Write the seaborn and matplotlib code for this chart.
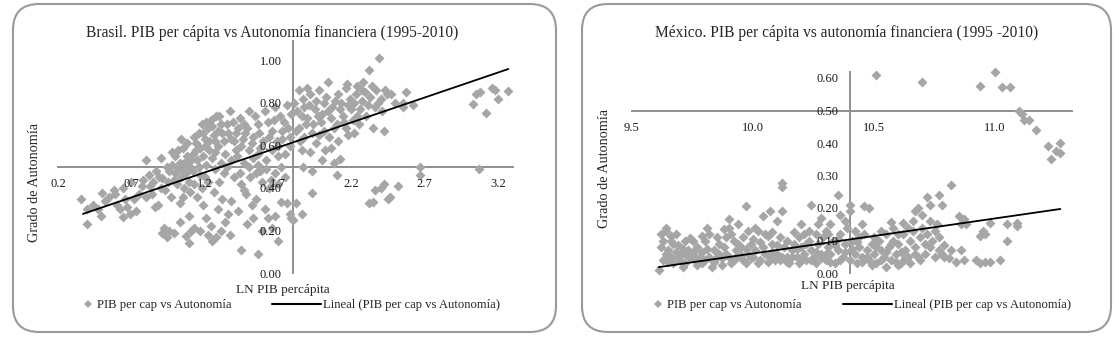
import numpy as np
import pandas as pd
import matplotlib
matplotlib.use('Agg')
import matplotlib.pyplot as plt
import seaborn as sns
from matplotlib.patches import FancyBboxPatch
from matplotlib.lines import Line2D
from matplotlib.transforms import IdentityTransform

# Brasil: LN PIB per capita vs grado de autonomia
brasil_pts = [
    (0.36, 0.35), (0.40, 0.30), (0.40, 0.23), (0.44, 0.32), (0.47, 0.30), (0.50, 0.375), (0.49, 0.27),
    (0.52, 0.34), (0.55, 0.36), (0.58, 0.39), (0.59, 0.37), (0.60, 0.32), (0.62, 0.30), (0.645, 0.265),
    (0.67, 0.31), (0.69, 0.28), (0.66, 0.35), (0.64, 0.40), (0.73, 0.29), (0.75, 0.37), (0.77, 0.41),
    (0.78, 0.44), (0.72, 0.35), (0.70, 0.43), (0.80, 0.36), (0.84, 0.37),
    (0.80, 0.53), (0.83, 0.41), (0.86, 0.31), (0.88, 0.32), (0.82, 0.46), (0.85, 0.43), (0.87, 0.48),
    (0.89, 0.45), (0.90, 0.54), (0.91, 0.445), (0.93, 0.39), (0.96, 0.48), (0.975, 0.57), (0.99, 0.44),
    (1.02, 0.58), (1.03, 0.33), (1.05, 0.59), (1.06, 0.52), (1.08, 0.55), (1.09, 0.27), (0.94, 0.50),
    (0.98, 0.51), (1.00, 0.47), (1.02, 0.49), (1.04, 0.45), (1.07, 0.47), (1.10, 0.50), (0.95, 0.43),
    (1.01, 0.42), (1.06, 0.40), (1.09, 0.43), (0.91, 0.19), (0.94, 0.17), (0.99, 0.19), (1.03, 0.24),
    (1.07, 0.175), (1.09, 0.14), (0.92, 0.21), (0.96, 0.20), (1.04, 0.63), (1.08, 0.61),
    (0.90, 0.40), (0.97, 0.36), (1.05, 0.36), (1.10, 0.38), (1.00, 0.55), (1.03, 0.52), (1.05, 0.48),
    (1.08, 0.51),
    (1.11, 0.20), (1.13, 0.21), (1.17, 0.20), (1.19, 0.32), (1.12, 0.56), (1.14, 0.61), (1.16, 0.66),
    (1.18, 0.70), (1.20, 0.63), (1.22, 0.68), (1.24, 0.72), (1.26, 0.65), (1.28, 0.74), (1.12, 0.48),
    (1.15, 0.53), (1.17, 0.46), (1.19, 0.55), (1.21, 0.51), (1.23, 0.58), (1.25, 0.54), (1.27, 0.49),
    (1.29, 0.60), (1.13, 0.42), (1.18, 0.40), (1.22, 0.43), (1.26, 0.38), (1.15, 0.36), (1.21, 0.26),
    (1.24, 0.22), (1.28, 0.17), (1.29, 0.30), (1.14, 0.58), (1.20, 0.60), (1.27, 0.57), (1.23, 0.62),
    (1.16, 0.50), (1.30, 0.74), (1.31, 0.70), (1.32, 0.66), (1.33, 0.62), (1.34, 0.56), (1.31, 0.52),
    (1.33, 0.47), (1.30, 0.43), (1.32, 0.35), (1.34, 0.24), (1.31, 0.20), (1.22, 0.18), (1.25, 0.15),
    (1.11, 0.53), (1.13, 0.64), (1.17, 0.59), (1.19, 0.66), (1.21, 0.71), (1.25, 0.69), (1.27, 0.62),
    (1.29, 0.67), (1.20, 0.45),
    (1.37, 0.76), (1.44, 0.73), (1.50, 0.76), (1.43, 0.68), (1.36, 0.66), (1.475, 0.66), (1.56, 0.70),
    (1.63, 0.71), (1.66, 0.67), (1.71, 0.74), (1.76, 0.79), (1.73, 0.67), (1.41, 0.58), (1.50, 0.58),
    (1.56, 0.56), (1.66, 0.58), (1.75, 0.56), (1.38, 0.53), (1.47, 0.52), (1.56, 0.51), (1.72, 0.50),
    (1.44, 0.47), (1.51, 0.45), (1.59, 0.43), (1.68, 0.47), (1.47, 0.39), (1.48, 0.37), (1.38, 0.34),
    (1.36, 0.28), (1.43, 0.29), (1.52, 0.32), (1.53, 0.26), (1.61, 0.30), (1.63, 0.26), (1.68, 0.27),
    (1.72, 0.335), (1.76, 0.33), (1.59, 0.20), (1.45, 0.11), (1.56, 0.09), (1.37, 0.18), (1.40, 0.62),
    (1.46, 0.63), (1.53, 0.64), (1.60, 0.62), (1.69, 0.62), (1.78, 0.64), (1.39, 0.71), (1.47, 0.70),
    (1.54, 0.74), (1.61, 0.76), (1.68, 0.78), (1.74, 0.71), (1.79, 0.75), (1.42, 0.55), (1.53, 0.54),
    (1.62, 0.53), (1.70, 0.55), (1.78, 0.60), (1.64, 0.40), (1.58, 0.48), (1.75, 0.45), (1.49, 0.23),
    (1.66, 0.21), (1.70, 0.15), (1.55, 0.35), (1.78, 0.28), (1.79, 0.26),
    (1.35, 0.70), (1.38, 0.63), (1.41, 0.66), (1.45, 0.60), (1.49, 0.68), (1.52, 0.61), (1.57, 0.66),
    (1.58, 0.59), (1.64, 0.64), (1.67, 0.72), (1.70, 0.60), (1.73, 0.63), (1.77, 0.68), (1.35, 0.50),
    (1.40, 0.45), (1.45, 0.42), (1.50, 0.50), (1.55, 0.47), (1.62, 0.49), (1.65, 0.44), (1.70, 0.42),
    (1.80, 0.25), (1.82, 0.33), (1.86, 0.28), (1.84, 0.86), (1.92, 0.84), (1.98, 0.86), (1.88, 0.78),
    (1.95, 0.77), (2.01, 0.80), (2.09, 0.81), (2.16, 0.87), (2.17, 0.89), (2.24, 0.88), (2.29, 0.85),
    (2.33, 0.83), (2.37, 0.86), (2.32, 0.955), (2.39, 1.01), (2.13, 0.80), (2.20, 0.77), (2.26, 0.77),
    (1.90, 0.73), (1.99, 0.71), (2.06, 0.73), (2.14, 0.74), (2.21, 0.72), (2.30, 0.74), (2.36, 0.78),
    (1.84, 0.68), (1.93, 0.66), (2.01, 0.67), (2.08, 0.68), (2.16, 0.68), (2.35, 0.68), (2.02, 0.58),
    (2.06, 0.59), (2.11, 0.62), (2.12, 0.535), (1.93, 0.48), (2.10, 0.46), (1.93, 0.375), (2.32, 0.33),
    (2.36, 0.39), (1.82, 0.67), (1.85, 0.62), (1.81, 0.80), (1.83, 0.76), (1.87, 0.82), (1.90, 0.87),
    (1.96, 0.81), (2.04, 0.76), (2.11, 0.84), (2.19, 0.82), (2.23, 0.84), (2.27, 0.81), (2.40, 0.82),
    (2.43, 0.86), (1.89, 0.70), (1.97, 0.74), (2.25, 0.70), (2.18, 0.65), (1.86, 0.58), (1.96, 0.61),
    (2.35, 0.335), (2.42, 0.42), (2.45, 0.35), (2.52, 0.41), (2.46, 0.36), (2.40, 0.40), (2.04, 0.90),
    (2.28, 0.90), (1.86, 0.74), (1.91, 0.79), (1.94, 0.70), (2.00, 0.75), (2.03, 0.83), (2.07, 0.78),
    (2.12, 0.77), (2.15, 0.71), (2.18, 0.79), (2.22, 0.80), (2.24, 0.74), (2.27, 0.86), (2.31, 0.79),
    (2.34, 0.88), (2.38, 0.80), (2.41, 0.76), (2.10, 0.70), (1.98, 0.65), (2.05, 0.64), (2.22, 0.66),
    (1.88, 0.64), (1.92, 0.57), (2.00, 0.53), (2.08, 0.52), (1.87, 0.50),
    (2.42, 0.67), (2.47, 0.84), (2.44, 0.84), (2.57, 0.85), (2.55, 0.80), (2.55, 0.78), (2.62, 0.79),
    (2.67, 0.50), (2.67, 0.46), (3.07, 0.49), (3.03, 0.795), (3.05, 0.84), (3.08, 0.85), (3.12, 0.755),
    (3.16, 0.87), (3.18, 0.86), (3.20, 0.82), (3.27, 0.855), (2.50, 0.80),
]
brasil_trend_x = [0.37, 3.27]
brasil_trend_y = [0.278, 0.96]
brasil_xticks = [0.2, 0.7, 1.2, 1.7, 2.2, 2.7, 3.2]
brasil_yticks = [0.0, 0.2, 0.4, 0.6, 0.8, 1.0]

# Mexico
mexico_pts = [
    (9.61, 0.01), (9.64, 0.14), (9.64, 0.13), (9.66, 0.10), (9.68, 0.12), (9.64, 0.06), (9.65, 0.07),
    (9.66, 0.05), (9.69, 0.085), (9.70, 0.055), (9.74, 0.107), (9.75, 0.10), (9.75, 0.06), (9.77, 0.08),
    (9.81, 0.14), (9.80, 0.04), (9.63, 0.04), (9.67, 0.03), (9.70, 0.04), (9.72, 0.03), (9.73, 0.07),
    (9.76, 0.04), (9.78, 0.05), (9.68, 0.065), (9.71, 0.075), (9.79, 0.03),
    (9.62, 0.08), (9.63, 0.10), (9.65, 0.035), (9.67, 0.09), (9.69, 0.045), (9.71, 0.02), (9.72, 0.06),
    (9.74, 0.045), (9.76, 0.07), (9.77, 0.025), (9.79, 0.065), (9.81, 0.075), (9.83, 0.02),
    (9.62, 0.12), (9.66, 0.115), (9.72, 0.10), (9.80, 0.10), (9.82, 0.12), (9.79, 0.115),
    (9.84, 0.07), (9.85, 0.11), (9.90, 0.165), (9.89, 0.11), (9.90, 0.14), (9.91, 0.12), (9.97, 0.206),
    (10.01, 0.14), (10.02, 0.13), (10.05, 0.12), (10.04, 0.175), (10.07, 0.19), (10.06, 0.115),
    (9.82, 0.05), (9.84, 0.035), (9.86, 0.06), (9.87, 0.045), (9.88, 0.08), (9.90, 0.05), (9.92, 0.04),
    (9.93, 0.07), (9.94, 0.09), (9.95, 0.055), (9.96, 0.04), (9.97, 0.075), (9.98, 0.06), (9.99, 0.09),
    (10.00, 0.05), (10.01, 0.07), (10.03, 0.04), (10.04, 0.08), (10.05, 0.06), (10.07, 0.05),
    (10.08, 0.09), (10.09, 0.04), (9.86, 0.09), (9.92, 0.10), (9.96, 0.11), (10.00, 0.105),
    (9.85, 0.05), (9.87, 0.025), (9.89, 0.06), (9.91, 0.03), (9.93, 0.05), (9.95, 0.08), (9.97, 0.03),
    (9.99, 0.045), (10.02, 0.03), (10.03, 0.095), (10.06, 0.035), (10.08, 0.065), (9.98, 0.13),
    (9.94, 0.15), (9.88, 0.135),
    (10.12, 0.276), (10.12, 0.265), (10.12, 0.19), (10.11, 0.11), (10.17, 0.127), (10.21, 0.12),
    (10.24, 0.21), (10.23, 0.13), (10.27, 0.15), (10.32, 0.15), (10.35, 0.24),
    (10.10, 0.06), (10.11, 0.04), (10.13, 0.08), (10.14, 0.05), (10.15, 0.03), (10.16, 0.07),
    (10.17, 0.09), (10.18, 0.05), (10.19, 0.03), (10.20, 0.08), (10.21, 0.06), (10.22, 0.04),
    (10.23, 0.10), (10.24, 0.07), (10.25, 0.05), (10.26, 0.03), (10.27, 0.09), (10.28, 0.06),
    (10.29, 0.11), (10.30, 0.04), (10.31, 0.08), (10.32, 0.06), (10.33, 0.10), (10.34, 0.03),
    (10.35, 0.07), (10.36, 0.12), (10.37, 0.05), (10.38, 0.09), (10.39, 0.14), (10.30, 0.13),
    (10.26, 0.12), (10.36, 0.18), (10.38, 0.16), (10.14, 0.10), (10.19, 0.11),
    (10.10, 0.085), (10.12, 0.05), (10.14, 0.035), (10.16, 0.05), (10.18, 0.075), (10.20, 0.04),
    (10.22, 0.09), (10.24, 0.04), (10.26, 0.065), (10.28, 0.045), (10.30, 0.06), (10.32, 0.035),
    (10.34, 0.085), (10.36, 0.04), (10.38, 0.065), (10.35, 0.105), (10.31, 0.12), (10.28, 0.17),
    (10.20, 0.15), (10.08, 0.125), (10.10, 0.16),
    (10.40, 0.21), (10.40, 0.19), (10.46, 0.205), (10.48, 0.20), (10.57, 0.156), (10.68, 0.20),
    (10.67, 0.19), (10.72, 0.235), (10.73, 0.21), (10.77, 0.24), (10.78, 0.21), (10.82, 0.27),
    (10.73, 0.16), (10.41, 0.10), (10.42, 0.06), (10.43, 0.03), (10.44, 0.08), (10.45, 0.05),
    (10.46, 0.12), (10.47, 0.07), (10.48, 0.04), (10.49, 0.09), (10.50, 0.06), (10.51, 0.03),
    (10.52, 0.10), (10.53, 0.07), (10.54, 0.05), (10.55, 0.12), (10.56, 0.08), (10.57, 0.04),
    (10.58, 0.10), (10.59, 0.06), (10.60, 0.09), (10.61, 0.03), (10.62, 0.12), (10.63, 0.07),
    (10.64, 0.05), (10.65, 0.10), (10.66, 0.13), (10.67, 0.08), (10.68, 0.05), (10.69, 0.11),
    (10.70, 0.14), (10.71, 0.09), (10.72, 0.12), (10.74, 0.10), (10.75, 0.13), (10.76, 0.15),
    (10.77, 0.11), (10.79, 0.086), (10.79, 0.05), (10.81, 0.045), (10.82, 0.07), (10.78, 0.06),
    (10.55, 0.02), (10.60, 0.025), (10.42, 0.13), (10.44, 0.11),
    (10.40, 0.04), (10.41, 0.075), (10.43, 0.095), (10.45, 0.035), (10.47, 0.05), (10.49, 0.025),
    (10.51, 0.08), (10.53, 0.04), (10.55, 0.065), (10.57, 0.09), (10.59, 0.035), (10.61, 0.065),
    (10.63, 0.045), (10.65, 0.03), (10.67, 0.06), (10.69, 0.04), (10.71, 0.06), (10.73, 0.08),
    (10.75, 0.05), (10.77, 0.07), (10.53, 0.13), (10.58, 0.14), (10.62, 0.155), (10.64, 0.14),
    (10.60, 0.12), (10.50, 0.11), (10.45, 0.15), (10.66, 0.16), (10.70, 0.18),
    (10.84, 0.035), (10.86, 0.07), (10.87, 0.04), (10.92, 0.04), (10.94, 0.03), (10.96, 0.035),
    (10.98, 0.035), (11.02, 0.04), (10.85, 0.176), (10.87, 0.165), (10.86, 0.15), (10.98, 0.153),
    (11.05, 0.15), (11.09, 0.155), (11.09, 0.145), (11.05, 0.10), (10.94, 0.115), (10.96, 0.12),
    (10.95, 0.13), (10.51, 0.61), (10.70, 0.587), (11.00, 0.618), (10.94, 0.575), (11.03, 0.571),
    (11.06, 0.571), (11.10, 0.50), (11.11, 0.49), (11.12, 0.47), (11.14, 0.47), (11.17, 0.44),
    (11.22, 0.39), (11.25, 0.375), (11.27, 0.37), (11.27, 0.40), (11.23, 0.35), (10.88, 0.15),
]
mexico_trend_x = [9.61, 11.27]
mexico_trend_y = [0.018, 0.197]
mexico_xticks = [9.5, 10.0, 10.5, 11.0]
mexico_yticks = [0.0, 0.1, 0.2, 0.3, 0.4, 0.5, 0.6]

titles = ['Brasil. PIB per cápita vs Autonomía financiera (1995-2010)',
          'México. PIB per cápita vs autonomía financiera (1995 -2010)']
ylab = 'Grado de Autonomía'
xlab = 'LN PIB percápita'
leg_pts = 'PIB per cap vs Autonomía'
leg_line = 'Lineal (PIB per cap vs Autonomía)'

sns.set_theme(style='white')
plt.rcParams['font.family'] = ['Liberation Serif', 'DejaVu Serif']

W, H = 1119, 338
fig = plt.figure(figsize=(W / 100, H / 100), dpi=100)

pt_col = '#A6A6A6'
ax_col = '#8F8F8F'


def px(x0, y0, w, h):
    # pixel box (top-left origin) -> figure fraction
    return [x0 / W, 1 - (y0 + h) / H, w / W, h / H]


def panel(rect, pts, tx, ty, xlim, ylim, xcross, ycross, xticks, yticks, xfmt, yfmt):
    ax = fig.add_axes(rect)
    df = pd.DataFrame(pts, columns=['x', 'y'])
    sns.scatterplot(data=df, x='x', y='y', ax=ax, marker='D', s=26, color=pt_col,
                    linewidth=0, legend=False, zorder=2, clip_on=False)
    sns.lineplot(x=tx, y=ty, ax=ax, color='black', lw=1.3, zorder=3)
    ax.set_xlim(xlim)
    ax.set_ylim(ylim)
    ax.set_xlabel('')
    ax.set_ylabel('')
    ax.set_axisbelow(False)  # tick labels on top of the points, as in Excel
    ax.spines['top'].set_visible(False)
    ax.spines['right'].set_visible(False)
    ax.spines['bottom'].set_position(('data', ycross))
    ax.spines['left'].set_position(('data', xcross))
    for s in ['bottom', 'left']:
        ax.spines[s].set_color(ax_col)
        ax.spines[s].set_linewidth(1.4)
        ax.spines[s].set_zorder(1)
    ax.set_xticks(xticks)
    ax.set_xticklabels([xfmt % v for v in xticks])
    ax.set_yticks(yticks)
    ax.set_yticklabels([yfmt % v for v in yticks])
    ax.tick_params(axis='both', direction='out', length=3, width=1.2, color=ax_col,
                   labelsize=9, labelcolor='#1a1a1a')
    ax.tick_params(axis='x', pad=5)
    ax.tick_params(axis='y', pad=5)
    ax.patch.set_alpha(0)
    return ax


# Brasil panel: 0.2 -> px 58, 146.7 px per unit; y 0 -> px 273, 212.5 px per unit
ax1 = panel(px(58, 273 - 1.09 * 212.5, 3.1 * 146.7, 1.09 * 212.5), brasil_pts,
            brasil_trend_x, brasil_trend_y, (0.2, 3.3), (0, 1.09), 1.8, 0.5,
            brasil_xticks, brasil_yticks, '%.1f', '%.2f')
# Mexico panel: 9.5 -> px 632, 242 px per unit; y 0 -> px 273, 325 px per unit
ax2 = panel(px(632, 273 - 0.62 * 325, 1.82 * 242, 0.62 * 325), mexico_pts,
            mexico_trend_x, mexico_trend_y, (9.5, 11.32), (0, 0.62), 10.4, 0.5,
            mexico_xticks, mexico_yticks, '%.1f', '%.2f')

# frames with rounded corners
for x0, w in [(13, 543), (582, 529)]:
    fig.add_artist(FancyBboxPatch((x0, 6), w, 328, boxstyle='round,pad=0,rounding_size=26',
                                  transform=IdentityTransform(), fill=False,
                                  ec='#9A9A9A', lw=1.5))

# texts
fig.text(272 / W, 1 - 33 / H, titles[0], ha='center', va='center', fontsize=11.2)
fig.text(847 / W, 1 - 33 / H, titles[1], ha='center', va='center', fontsize=11.2)
fig.text(35 / W, 1 - 182 / H, ylab, rotation=90, ha='center', va='center', fontsize=10.3)
fig.text(605 / W, 1 - 168 / H, ylab, rotation=90, ha='center', va='center', fontsize=10.3)
fig.text(283 / W, 1 - 290 / H, xlab, ha='center', va='center', fontsize=9.5)
fig.text(848 / W, 1 - 286 / H, xlab, ha='center', va='center', fontsize=9.5)

# legends
for mx, lx in [(82, 272), (652, 843)]:
    h1 = Line2D([], [], marker='D', ls='', color=pt_col, markersize=4, markeredgewidth=0)
    h2 = Line2D([], [], color='black', lw=1.5)
    fig.legend([h1], [leg_pts], loc='center left', bbox_to_anchor=(mx / W, 1 - 305 / H),
               frameon=False, fontsize=9.2, handlelength=0.9, handletextpad=0.3,
               borderpad=0, borderaxespad=0)
    fig.legend([h2], [leg_line], loc='center left', bbox_to_anchor=(lx / W, 1 - 305 / H),
               frameon=False, fontsize=9.1, handlelength=3.9, handletextpad=0.15,
               borderpad=0, borderaxespad=0)

fig.savefig('out.png', dpi=100)
